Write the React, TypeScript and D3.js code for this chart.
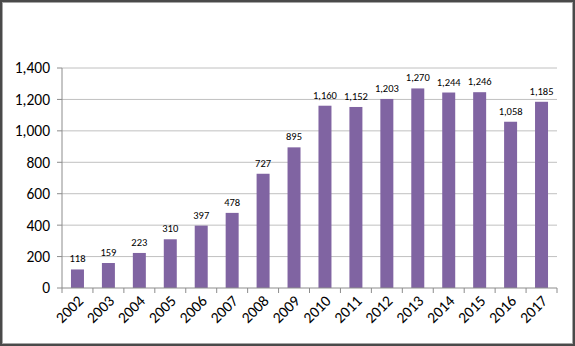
import React from "react";
import * as d3 from "d3";

const years = ["2002","2003","2004","2005","2006","2007","2008","2009","2010","2011","2012","2013","2014","2015","2016","2017"];
const values = [118,159,223,310,397,478,727,895,1160,1152,1203,1270,1244,1246,1058,1185];
const yTicks = [0,200,400,600,800,1000,1200,1400];

const W = 575, H = 346;
const left = 62, right = 557, top = 68, bottom = 288;
const font = "Calibri, Carlito, 'Liberation Sans', Arial, sans-serif";

export default function App() {
  React.useEffect(() => {
    document.body.style.margin = "0";
  }, []);
  const x = d3.scaleBand<string>().domain(years).range([left, right]).paddingInner(0.58).paddingOuter(0.29);
  const step = (right - left) / years.length;
  const y = d3.scaleLinear().domain([0, 1400]).range([bottom, top]);
  const fmt = d3.format(",");
  return (
    <svg width={W} height={H} style={{ display: "block" }}>
      <rect x={0} y={0} width={W} height={H} fill="#fff" />
      {yTicks.slice(1).map(t => (
        <line key={"g"+t} x1={left} x2={right} y1={y(t)} y2={y(t)} stroke="#c0c0c0" strokeWidth={1} />
      ))}
      {yTicks.map(t => (
        <g key={"t"+t}>
          <line x1={left - 5} x2={left} y1={y(t)} y2={y(t)} stroke="#8c8c8c" />
          <text x={left - 12} y={y(t)} dy="0.35em" textAnchor="end" fontSize={15.5} fontFamily={font} fill="#000">{fmt(t)}</text>
        </g>
      ))}
      {values.map((v, i) => (
        <g key={years[i]}>
          <rect x={x(years[i])} y={y(v)} width={x.bandwidth()} height={bottom - y(v)} fill="#8064A2" />
          <text x={(x(years[i]) as number) + x.bandwidth() / 2} y={y(v) - 7} textAnchor="middle" fontSize={10.5} fontFamily={font} fill="#000">{fmt(v)}</text>
        </g>
      ))}
      <line x1={left} x2={left} y1={top} y2={bottom} stroke="#8c8c8c" />
      <line x1={left} x2={right} y1={bottom} y2={bottom} stroke="#8c8c8c" />
      {d3.range(years.length + 1).map(i => (
        <line key={"xt"+i} x1={left + i * step} x2={left + i * step} y1={bottom} y2={bottom + 5} stroke="#8c8c8c" />
      ))}
      {years.map((yr, i) => {
        const cx = left + (i + 0.5) * step;
        return (
          <text key={"xl"+yr} transform={`translate(${cx + 3},${bottom + 10}) rotate(-45)`} textAnchor="end" dy="0.35em" fontSize={15.5} fontFamily={font} fill="#000">{yr}</text>
        );
      })}
      <rect x={1} y={1} width={W - 2} height={H - 2} fill="none" stroke="#4a4a4a" strokeWidth={2} />
      <rect x={2.5} y={2.5} width={W - 5} height={H - 5} fill="none" stroke="#a6a6a6" strokeWidth={1} />
    </svg>
  );
}
